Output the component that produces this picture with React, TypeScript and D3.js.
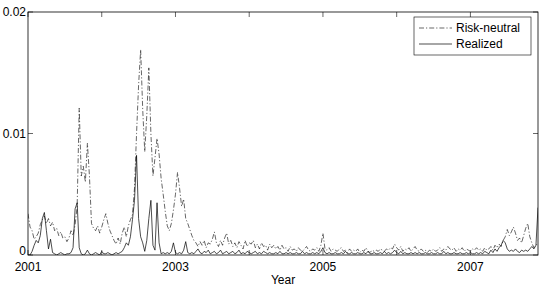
import React from "react";
import * as d3 from "d3";

// Values in units of 1e-3, sampled every 1/36 year starting at 2001.0
const riskNeutral: number[] = [
  3.4, 2.3, 2.0, 1.3, 1.5, 1.8, 2.5, 2.9, 3.2, 2.6,
  3.0, 2.4, 2.7, 2.0, 2.2, 1.6, 1.9, 1.4, 1.5, 1.1,
  1.4, 2.0, 1.6, 2.5, 4.0, 12.1, 6.5, 7.3, 6.0, 9.2,
  6.5, 2.6, 2.2, 2.0, 2.4, 1.8, 2.3, 2.9, 3.4, 2.6,
  2.0, 1.6, 1.2, 0.9, 1.4, 0.9, 1.8, 2.3, 1.5, 2.4,
  2.9, 3.3, 5.5, 10.0, 14.0, 16.9, 12.0, 8.5, 11.5, 15.4,
  10.0, 6.5, 8.0, 9.6, 8.3, 6.3, 5.0, 3.6, 2.4, 2.0,
  2.6, 3.7, 5.0, 6.8, 5.5, 4.0, 4.6, 3.0, 2.6, 2.1,
  1.6, 1.2, 1.0, 0.7, 1.1, 0.8, 1.2, 0.6, 1.0, 0.9,
  1.3, 1.9, 1.0, 0.7, 1.2, 0.8, 1.4, 1.8, 0.9, 1.2,
  0.7, 1.0, 0.6, 1.1, 0.8, 0.5, 1.2, 0.7, 1.0, 0.9,
  1.2, 0.6, 0.9, 0.5, 1.0, 0.7, 0.8, 0.4, 0.9, 0.6,
  0.8, 0.5, 0.7, 0.4, 0.8, 0.5, 0.6, 0.3, 0.7, 0.4,
  0.5, 0.3, 0.6, 0.4, 0.3, 0.5, 0.7, 0.4, 0.3, 0.5,
  0.4, 0.6, 0.3, 0.8, 1.8, 0.5, 0.4, 0.6, 0.3, 0.5,
  0.4, 0.3, 0.5, 0.6, 0.3, 0.4, 0.2, 0.5, 0.3, 0.4,
  0.3, 0.5, 0.2, 0.4, 0.3, 0.6, 0.3, 0.2, 0.4, 0.3,
  0.4, 0.3, 0.5, 0.4, 0.3, 0.5, 0.4, 0.6, 0.5, 0.9,
  0.6, 0.4, 0.7, 0.3, 0.5, 0.4, 0.6, 0.3, 0.5, 0.7,
  0.4, 0.3, 0.5, 0.3, 0.4, 0.2, 0.4, 0.3, 0.5, 0.3,
  0.4, 0.6, 0.3, 0.5, 0.4, 0.7, 0.5, 0.4, 0.6, 0.3,
  0.5, 0.4, 0.6, 0.3, 0.5, 0.4, 0.3, 0.5, 0.4, 0.6,
  0.4, 0.5, 0.3, 0.6, 0.4, 0.5, 0.7, 0.4, 0.8, 0.6,
  0.9, 0.7, 1.2, 1.5, 2.1, 1.6, 1.9, 2.3, 1.8, 1.2,
  1.4, 1.0, 1.6, 2.2, 2.6, 1.5, 1.0, 0.6, 0.8, 1.0,
];

const realized: number[] = [
  0.0, 0.0, 0.3, 0.8, 1.2, 1.0, 1.6, 3.0, 3.5, 2.0,
  0.5, 1.3, 0.2, 0.1, 0.0, 0.1, 0.2, 0.1, 0.0, 0.1,
  0.1, 0.2, 0.6, 3.8, 4.3, 0.6, 0.1, 0.0, 0.1, 0.4,
  0.1, 0.0, 0.1, 0.2, 0.1, 0.0, 0.3, 0.1, 0.1, 0.2,
  0.1, 0.0, 0.1, 0.2, 0.1, 0.2, 0.3, 0.6, 1.0, 0.8,
  1.5, 2.9, 4.5, 8.2, 3.0, 1.5, 1.0, 0.3, 1.2, 3.0,
  4.5, 0.8, 0.4, 4.3, 1.0, 0.1, 0.2, 0.1, 0.2, 0.1,
  0.3, 1.0, 0.2, 0.1, 0.2, 0.1, 0.4, 1.1, 0.2, 0.1,
  0.2, 0.1, 0.3, 0.5, 0.2, 0.1, 0.3, 0.2, 0.4, 0.1,
  0.2, 0.3, 0.1, 0.2, 0.4, 0.1, 0.2, 0.3, 0.1, 0.2,
  0.3, 0.1, 0.2, 0.4, 0.1, 0.2, 0.1, 0.3, 0.2, 0.1,
  0.2, 0.3, 0.1, 0.2, 0.1, 0.3, 0.2, 0.1, 0.2, 0.1,
  0.1, 0.2, 0.1, 0.3, 0.1, 0.1, 0.2, 0.1, 0.2, 0.1,
  0.1, 0.2, 0.1, 0.1, 0.3, 0.1, 0.2, 0.1, 0.1, 0.2,
  0.1, 0.2, 0.1, 0.3, 0.6, 0.2, 0.1, 0.2, 0.1, 0.1,
  0.2, 0.1, 0.1, 0.2, 0.1, 0.3, 0.1, 0.1, 0.2, 0.1,
  0.1, 0.2, 0.1, 0.1, 0.2, 0.1, 0.3, 0.1, 0.1, 0.2,
  0.1, 0.1, 0.2, 0.1, 0.3, 0.1, 0.2, 0.1, 0.2, 0.4,
  0.2, 0.1, 0.3, 0.1, 0.2, 0.1, 0.1, 0.2, 0.1, 0.2,
  0.1, 0.2, 0.1, 0.1, 0.2, 0.1, 0.1, 0.2, 0.1, 0.1,
  0.2, 0.1, 0.1, 0.3, 0.1, 0.2, 0.1, 0.1, 0.2, 0.1,
  0.1, 0.2, 0.1, 0.1, 0.2, 0.1, 0.2, 0.1, 0.1, 0.2,
  0.1, 0.2, 0.1, 0.3, 0.2, 0.1, 0.4, 0.2, 0.5, 0.3,
  0.6, 0.8, 1.2, 1.0, 0.5, 0.3, 0.4, 0.3, 0.5, 0.3,
  0.2, 0.4, 0.3, 0.4, 0.3, 0.5, 0.7, 0.5, 0.8, 3.9,
];

const UNIT = 1e-3;
const START_YEAR = 2001;
const STEP = 1 / 36;

const xTickYears = [2001, 2002, 2003, 2004, 2005, 2006, 2007];
const xTickLabels = ["2001", "", "2003", "", "2005", "", "2007"];
const yTicks = [0, 0.01, 0.02];
const yTickLabels = ["0", "0.01", "0.02"];
const seriesNames = ["Risk-neutral", "Realized"];

const W = 545;
const H = 290;
const L = 28;
const R = 538;
const T = 12;
const B = 255;
const FONT = "'Liberation Sans', Arial, Helvetica, sans-serif";

export default function App() {
  const n = riskNeutral.length;
  const x = d3.scaleLinear().domain([START_YEAR, START_YEAR + (n - 1) * STEP]).range([L, R]);
  const y = d3.scaleLinear().domain([0, 0.02]).range([B, T]);

  const line = d3
    .line<number>()
    .x((_, i) => x(START_YEAR + i * STEP))
    .y((v) => y(v * UNIT));

  const tickLen = 5;
  const dash = "5,2,1.2,2";

  const legX = 414, legY = 17, legW = 117, legH = 38;

  return (
    <svg
      width={W}
      height={H}
      style={{ position: "absolute", left: 0, top: 0, background: "#fff" }}
      fontFamily={FONT}
      fontSize={12}
    >
      <rect x={0} y={0} width={W} height={H} fill="#fff" />
      <defs>
        <clipPath id="plotclip">
          <rect x={L} y={T} width={R - L} height={B - T} />
        </clipPath>
      </defs>
      <g clipPath="url(#plotclip)" fill="none">
        <path d={line(riskNeutral) || ""} stroke="#000" strokeWidth={0.6} strokeDasharray={dash} />
        <path d={line(realized) || ""} stroke="#000" strokeWidth={0.7} />
      </g>
      {/* axes box */}
      <rect x={L} y={T} width={R - L} height={B - T} fill="none" stroke="#000" strokeWidth={0.8} />
      {/* x ticks */}
      {xTickYears.map((yr, i) => (
        <g key={"xt" + yr}>
          <line x1={x(yr)} x2={x(yr)} y1={B} y2={B - tickLen} stroke="#000" strokeWidth={0.6} />
          <line x1={x(yr)} x2={x(yr)} y1={T} y2={T + tickLen} stroke="#000" strokeWidth={0.6} />
          {xTickLabels[i] && (
            <text x={x(yr)} y={271} textAnchor="middle" fill="#000">
              {xTickLabels[i]}
            </text>
          )}
        </g>
      ))}
      {/* y ticks */}
      {yTicks.map((v, i) => (
        <g key={"yt" + v}>
          <line x1={L} x2={L + tickLen} y1={y(v)} y2={y(v)} stroke="#000" strokeWidth={0.6} />
          <line x1={R} x2={R - tickLen} y1={y(v)} y2={y(v)} stroke="#000" strokeWidth={0.6} />
          <text x={L - 2} y={y(v) + (i === 0 ? 0 : 4)} textAnchor="end" fill="#000">
            {yTickLabels[i]}
          </text>
        </g>
      ))}
      <text x={(L + R) / 2} y={284} textAnchor="middle" fill="#000">
        Year
      </text>
      {/* legend */}
      <rect x={legX} y={legY} width={legW} height={legH} fill="#fff" stroke="#000" strokeWidth={0.6} />
      <line x1={legX + 5} x2={legX + 38} y1={legY + 11} y2={legY + 11} stroke="#000" strokeWidth={0.6} strokeDasharray={dash} />
      <text x={legX + 42} y={legY + 15} fill="#000">
        {seriesNames[0]}
      </text>
      <line x1={legX + 5} x2={legX + 38} y1={legY + 27} y2={legY + 27} stroke="#000" strokeWidth={0.7} />
      <text x={legX + 42} y={legY + 31} fill="#000">
        {seriesNames[1]}
      </text>
    </svg>
  );
}
